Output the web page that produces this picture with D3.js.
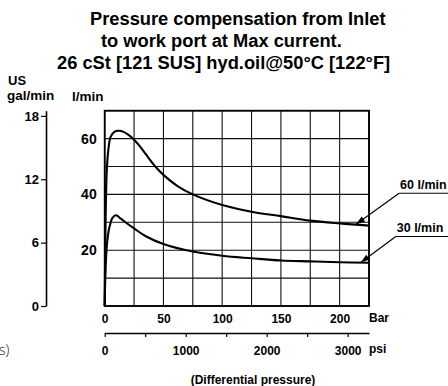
<!DOCTYPE html>
<html>
<head>
<meta charset="utf-8">
<script src="https://cdn.jsdelivr.net/npm/d3@7"></script>
<style>
  body { margin: 0; background: #fff; }
  svg { display: block; font-family: "Liberation Sans", Arial, sans-serif; }
</style>
</head>
<body>
<figure id="chart" style="margin:0"></figure>
<script>
// ---- data ----
const titleLines = [
  "Pressure compensation from Inlet",
  "to work port at Max current.",
  "26 cSt [121 SUS] hyd.oil@50\u00b0C [122\u00b0F]"
];
const barTicks = [0, 50, 100, 150, 200];
const barGrid = [0, 25, 50, 75, 100, 125, 150, 175, 200, 225];
const flowTicks = [20, 40, 60];
const flowGrid = [0, 10, 20, 30, 40, 50, 60, 70];
const galTicks = [0, 6, 12, 18];
const psiTicks = [0, 500, 1000, 1500, 2000, 2500, 3000];

// 60 l/min curve (bar, l/min)
const bar60 = [0, 0.6, 1.7, 3.1, 5.1, 8.5, 12.5, 16, 20, 25, 30, 35, 40, 45, 50, 62, 75, 100, 125, 150, 175, 200, 225];
const flow60 = [0, 25, 48, 56, 60.7, 62.5, 62.8, 62.4, 61.4, 59.6, 57.2, 54.4, 51.6, 49.1, 47, 43, 40, 36.2, 33.8, 32.2, 30.6, 29.6, 28.8];
// 30 l/min curve
const bar30 = [0, 0.5, 1.7, 3, 4.5, 6.5, 9.7, 14, 20, 25, 35, 50, 75, 100, 125, 150, 175, 200, 225];
const flow30 = [0, 10, 21, 26, 29, 31.5, 32.5, 31.2, 29.3, 27.8, 25, 22.2, 19.5, 18, 17.1, 16.3, 16, 15.7, 15.5];

const series = [
  { name: "60 l/min", bar: bar60, flow: flow60, tip: [214, 29.3] },
  { name: "30 l/min", bar: bar30, flow: flow30, tip: [218, 15.6] }
];

const LPM_PER_GAL = 3.78541;
const PSI_PER_BAR = 14.5038;

const W = 448, H = 386;
const plot = { left: 104.7, right: 369, top: 110.7, bottom: 306 };

const svg = d3.select("#chart").append("svg")
  .attr("width", W).attr("height", H);

// title
svg.append("g").selectAll("text")
  .data(titleLines)
  .enter().append("text")
  .attr("x", (d, i) => [90, 101, 57][i])
  .attr("y", (d, i) => 25 + i * 22)
  .attr("font-size", 18.3)
  .attr("font-weight", "bold")
  .text(d => d);

// scales
const x = d3.scaleLinear().domain([0, 225]).range([plot.left, plot.right]);
const y = d3.scaleLinear().domain([0, 70]).range([plot.bottom, plot.top]);
const psi = d3.scaleLinear().domain([0, 225 * PSI_PER_BAR]).range([plot.left, plot.right]);
const gal = d3.scaleLinear().domain([0, 70 / LPM_PER_GAL]).range([plot.bottom, plot.top]);

// grid
const grid = svg.append("g").attr("stroke", "#111").attr("stroke-width", 1.1);
grid.selectAll("line.v").data(barGrid).enter().append("line")
  .attr("x1", d => x(d)).attr("x2", d => x(d))
  .attr("y1", plot.top).attr("y2", plot.bottom);
grid.selectAll("line.h").data(flowGrid).enter().append("line")
  .attr("x1", plot.left).attr("x2", plot.right)
  .attr("y1", d => y(d)).attr("y2", d => y(d));

// frame
svg.append("rect")
  .attr("x", plot.left).attr("y", plot.top)
  .attr("width", plot.right - plot.left).attr("height", plot.bottom - plot.top)
  .attr("fill", "none").attr("stroke", "#000").attr("stroke-width", 1.8);

// l/min labels
const yAxis = svg.append("g")
  .attr("transform", "translate(" + plot.left + ",0)")
  .call(d3.axisLeft(y).tickValues(flowTicks).tickSize(0).tickPadding(8));
yAxis.select(".domain").remove();

// gal/min axis
const galAxis = svg.append("g")
  .attr("transform", "translate(46,0)")
  .call(d3.axisLeft(gal).tickValues(galTicks).tickSize(5).tickSizeOuter(0).tickPadding(2));
galAxis.select(".domain").attr("stroke-width", 1.6);
galAxis.selectAll(".tick line").attr("stroke-width", 1.2);

// bar labels
const xAxis = svg.append("g")
  .attr("transform", "translate(0," + plot.bottom + ")")
  .call(d3.axisBottom(x).tickValues(barTicks).tickSize(0).tickPadding(8));
xAxis.select(".domain").remove();

// psi axis
const psiAxis = svg.append("g")
  .attr("transform", "translate(0,333)")
  .call(d3.axisBottom(psi).tickValues(psiTicks).tickSize(4).tickSizeOuter(0).tickPadding(9)
    .tickFormat(d => d % 1000 === 0 ? d : ""));
psiAxis.select(".domain").attr("stroke-width", 1.6);
psiAxis.selectAll(".tick line").attr("stroke-width", 1.2);

[yAxis, galAxis, xAxis, psiAxis].forEach(g => {
  g.attr("font-family", null).attr("font-size", null);
  g.selectAll("text").attr("fill", "#000").attr("font-weight", "bold");
});
yAxis.selectAll("text").attr("font-size", 14);
galAxis.selectAll("text").attr("font-size", 13);
xAxis.selectAll("text").attr("font-size", 12);
psiAxis.selectAll("text").attr("font-size", 12);

// axis titles
const label = (tx, ty, s, size) => svg.append("text")
  .attr("x", tx).attr("y", ty).attr("font-size", size)
  .attr("font-weight", "bold").text(s);
label(8, 85, "US", 13);
label(7, 100, "gal/min", 13.5);
label(72, 101, "l/min", 13.5);
label(plot.right, 322, "Bar", 12);
label(plot.right, 353, "psi", 12);
svg.append("text").attr("x", 253).attr("y", 384)
  .attr("text-anchor", "middle").attr("font-size", 12).attr("font-weight", "bold")
  .text("(Differential pressure)");
svg.append("text").attr("x", -1).attr("y", 355)
  .attr("font-family", "'Open Sans', sans-serif").attr("font-weight", 300)
  .attr("font-size", 14).attr("fill", "#222").text("s)");

// curves
const line = d3.line().curve(d3.curveCatmullRom.alpha(0.5))
  .x(d => x(d[0])).y(d => y(d[1]));
svg.selectAll("path.curve").data(series).enter().append("path")
  .attr("class", "curve")
  .attr("d", s => line(s.bar.map((b, i) => [b, s.flow[i]])))
  .attr("fill", "none").attr("stroke", "#000").attr("stroke-width", 2.1);

// callouts
const callout = svg.selectAll("g.callout").data(series).enter().append("g");
callout.each(function (s, i) {
  const g = d3.select(this);
  const tx = x(s.tip[0]), ty = y(s.tip[1]);
  const lx = tx + [43, 35][i], ly = ty - [31, 26][i];
  g.append("line").attr("x1", lx).attr("y1", ly).attr("x2", W).attr("y2", ly)
    .attr("stroke", "#000").attr("stroke-width", 1.2);
  g.append("line").attr("x1", lx).attr("y1", ly).attr("x2", tx).attr("y2", ty)
    .attr("stroke", "#000").attr("stroke-width", 1.2);
  const ang = Math.atan2(ly - ty, lx - tx);
  const len = 9, half = 3;
  const bx = tx + len * Math.cos(ang), by = ty + len * Math.sin(ang);
  g.append("path")
    .attr("d", "M" + tx + "," + ty +
      "L" + (bx - half * Math.sin(ang)) + "," + (by + half * Math.cos(ang)) +
      "L" + (bx + half * Math.sin(ang)) + "," + (by - half * Math.cos(ang)) + "Z")
    .attr("fill", "#000");
  g.append("text").attr("x", lx + 1).attr("y", ly - 4)
    .attr("font-size", 12.5).attr("font-weight", "bold").text(s.name);
});
</script>
</body>
</html>
